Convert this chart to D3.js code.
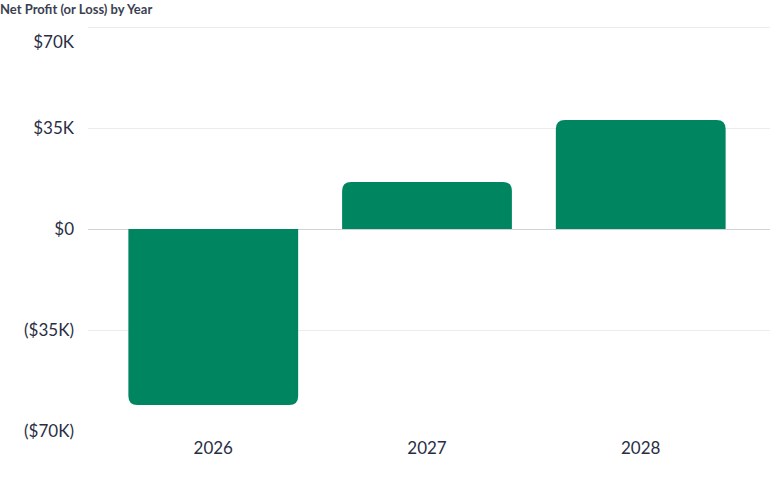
<!DOCTYPE html><html><head><meta charset="utf-8"><script src="https://cdn.jsdelivr.net/npm/d3@7"></script>
<style>body{margin:0;background:#fff}text{font-family:Lato,"Open Sans",sans-serif}</style></head><body><svg id="c" width="770" height="477"></svg><script>
const years=["2026","2027","2028"];
const values=[-61000,16300,37800];
const ticks=[70000,35000,0,-35000,-70000];
const tickLabels=["$70K","$35K","$0","($35K)","($70K)"];
const svg=d3.select("#c");
const y=d3.scaleLinear().domain([-70000,70000]).range([431,27]);
const x=d3.scaleBand().domain(years).range([107,747]).paddingInner(0.2056).paddingOuter(0.1);
svg.append("text").attr("x",0).attr("y",14).attr("font-size",13).attr("font-weight",700).attr("fill","#3b3f52").text("Net Profit (or Loss) by Year");
ticks.forEach((t,i)=>{
  if(t!==-70000) svg.append("line").attr("x1",88).attr("x2",770).attr("y1",y(t)+0.5).attr("y2",y(t)+0.5).attr("stroke",t===0?"#d0d2d8":"#ececee");
  const ly=t===70000?y(t)+15:y(t);
  svg.append("text").attr("x",74).attr("y",ly).attr("dy","0.35em").attr("text-anchor","end").attr("font-size",17).attr("fill","#2a2e45").text(tickLabels[i]);
});
const r=9;
values.forEach((v,i)=>{
  const x0=x(years[i]),w=x.bandwidth(),y0=y(0),y1=y(v);
  let p;
  if(v>=0) p=`M${x0},${y0}V${y1+r}Q${x0},${y1} ${x0+r},${y1}H${x0+w-r}Q${x0+w},${y1} ${x0+w},${y1+r}V${y0}Z`;
  else p=`M${x0},${y0}V${y1-r}Q${x0},${y1} ${x0+r},${y1}H${x0+w-r}Q${x0+w},${y1} ${x0+w},${y1-r}V${y0}Z`;
  svg.append("path").attr("d",p).attr("fill","#008561");
  svg.append("text").attr("x",x0+w/2).attr("y",448).attr("dy","0.35em").attr("text-anchor","middle").attr("font-size",17).attr("fill","#2a2e45").text(years[i]);
});
</script></body></html>
